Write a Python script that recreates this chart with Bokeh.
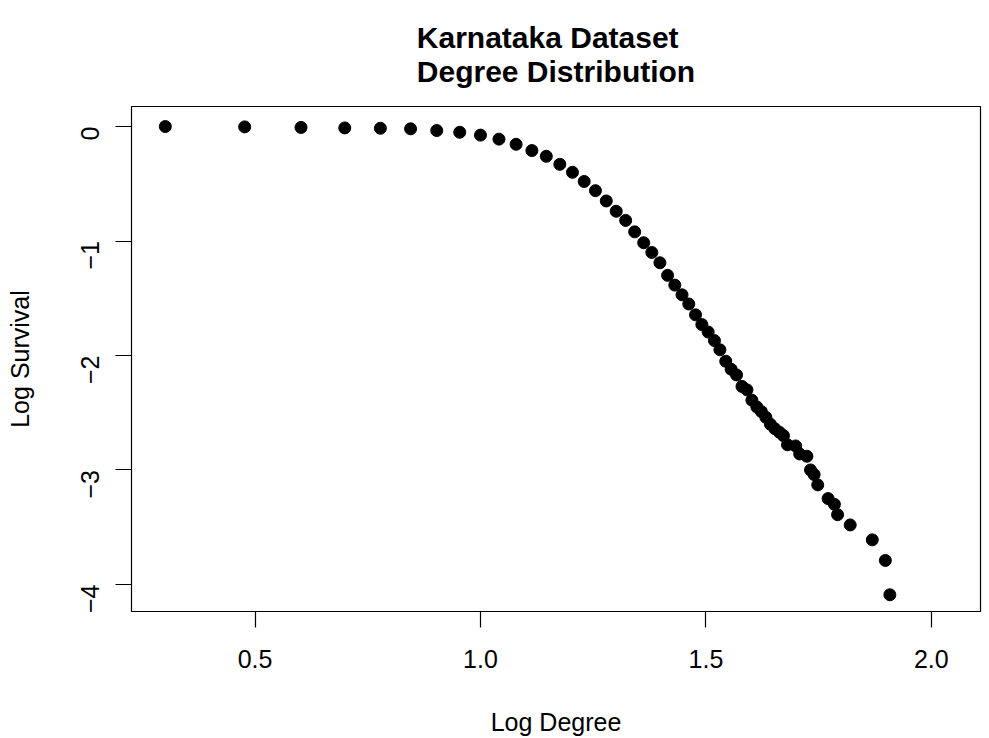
import math
from bokeh.plotting import figure
from bokeh.models import FixedTicker, Title, Range1d
from bokeh.embed import file_html
from bokeh.resources import INLINE

# Log degree (x) and log survival (y)
log_degree = [0.301, 0.477, 0.602, 0.699, 0.778, 0.845, 0.903, 0.954, 1.000, 1.041,
              1.079, 1.114, 1.146, 1.176, 1.204, 1.230, 1.255, 1.279, 1.301, 1.322,
              1.342, 1.362, 1.380, 1.398, 1.415, 1.431, 1.447, 1.462, 1.477, 1.491,
              1.505, 1.519, 1.531, 1.544, 1.556, 1.568, 1.580, 1.591, 1.602, 1.613,
              1.623, 1.633, 1.643, 1.653, 1.663, 1.672, 1.681, 1.699, 1.708, 1.724,
              1.732, 1.740, 1.748, 1.771, 1.785, 1.792, 1.820, 1.869, 1.898, 1.908]
log_survival = [0.000, -0.003, -0.008, -0.012, -0.015, -0.020, -0.035, -0.050, -0.075, -0.110,
                -0.155, -0.210, -0.260, -0.330, -0.400, -0.480, -0.560, -0.650, -0.740, -0.820,
                -0.920, -1.015, -1.100, -1.190, -1.300, -1.385, -1.470, -1.550, -1.645, -1.730,
                -1.795, -1.870, -1.950, -2.050, -2.120, -2.170, -2.270, -2.300, -2.390, -2.450,
                -2.490, -2.540, -2.600, -2.640, -2.670, -2.700, -2.780, -2.790, -2.860, -2.880,
                -3.000, -3.040, -3.130, -3.250, -3.300, -3.390, -3.480, -3.610, -3.790, -4.090]

x_ticks = [0.5, 1.0, 1.5, 2.0]
x_tick_labels = ["0.5", "1.0", "1.5", "2.0"]
y_ticks = [0, -1, -2, -3, -4]
y_tick_labels = ["0", "\u22121", "\u22122", "\u22123", "\u22124"]
title_lines = ["Karnataka Dataset", "Degree Distribution"]

FONT = "Liberation Sans"

p = figure(width=989, height=738, output_backend="svg", toolbar_location=None,
           x_range=Range1d(0.226, 2.109), y_range=Range1d(-4.236, 0.175),
           min_border_left=131, min_border_right=9, min_border_top=106,
           min_border_bottom=127)

p.background_fill_color = "white"
p.border_fill_color = "white"
p.outline_line_color = "black"
p.outline_line_width = 1.2
p.grid.visible = False

p.scatter(log_degree, log_survival, size=12, color="black", marker="circle")

for ax in (p.xaxis[0], p.yaxis[0]):
    ax.axis_line_color = None
    ax.major_tick_in = 0
    ax.major_tick_out = 16
    ax.major_tick_line_color = "black"
    ax.major_tick_line_width = 1.2
    ax.minor_tick_line_color = None
    ax.major_label_text_font = FONT
    ax.major_label_text_font_size = "25px"
    ax.major_label_text_color = "black"
    ax.axis_label_text_font = FONT
    ax.axis_label_text_font_size = "25px"
    ax.axis_label_text_font_style = "normal"
    ax.axis_label_text_color = "black"

p.xaxis.ticker = FixedTicker(ticks=x_ticks)
p.xaxis.major_label_overrides = dict(zip(x_ticks, x_tick_labels))
p.xaxis.axis_label = "Log Degree"
p.xaxis.major_label_standoff = 22
p.xaxis.axis_label_standoff = 37

p.yaxis.ticker = FixedTicker(ticks=y_ticks)
p.yaxis.major_label_overrides = dict(zip(y_ticks, y_tick_labels))
p.yaxis.major_label_orientation = math.pi / 2
p.yaxis.axis_label = "Log Survival"
p.yaxis.major_label_standoff = 25
p.yaxis.axis_label_standoff = 36

p.add_layout(Title(text="\n".join(title_lines), align="center",
                   text_font=FONT, text_font_size="30px", text_font_style="bold",
                   text_color="black", text_line_height=1.05, standoff=36), "above")

open("out.html", "w").write(file_html(p, INLINE))
